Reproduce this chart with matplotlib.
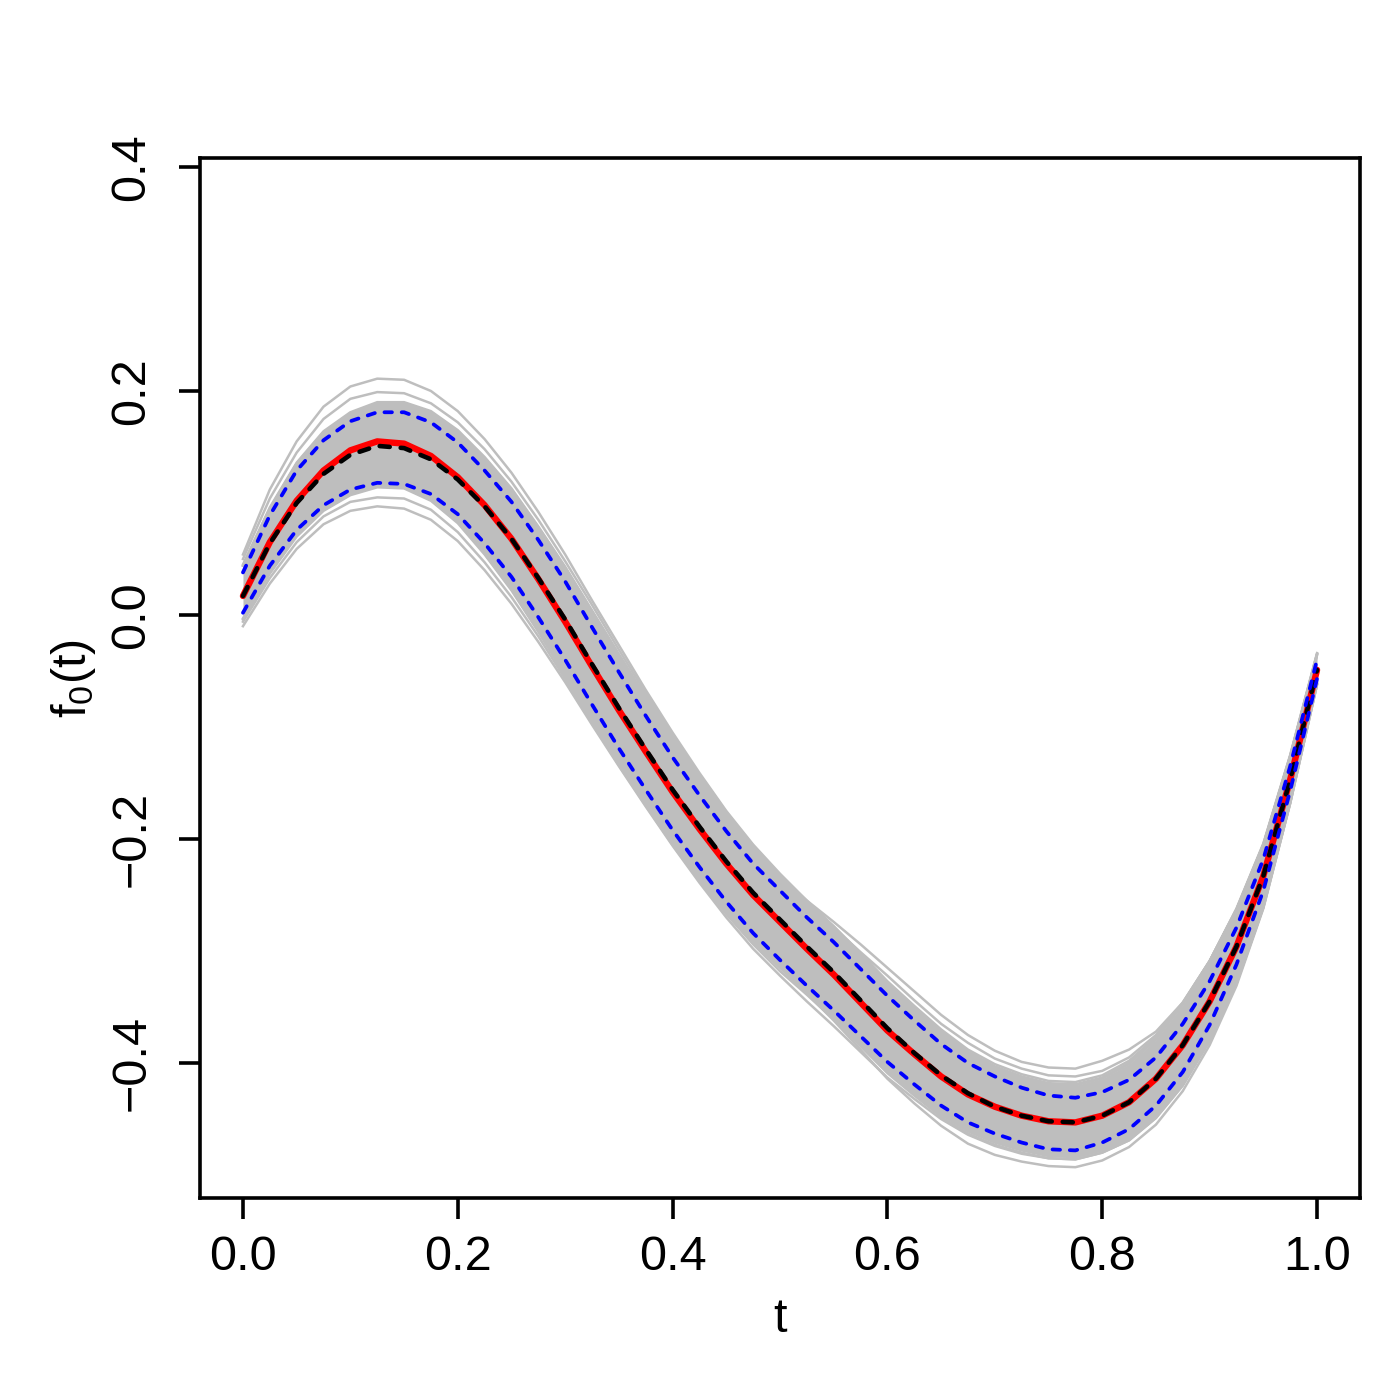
import numpy as np
import matplotlib
matplotlib.use("Agg")
from matplotlib import pyplot as plt

plt.rcParams['font.family'] = ['Liberation Sans', 'DejaVu Sans']
plt.rcParams['mathtext.default'] = 'regular'

# sample points along t where the curves were read
t = np.linspace(0, 1, 41)

# estimated f0 (red, solid)
est = [0.017, 0.065, 0.102, 0.129, 0.147, 0.155, 0.153, 0.142, 0.123, 0.098,
       0.068, 0.032, -0.006, -0.046, -0.085, -0.122, -0.158, -0.191, -0.222, -0.250,
       -0.274, -0.298, -0.321, -0.346, -0.371, -0.392, -0.412, -0.428, -0.439, -0.447,
       -0.452, -0.453, -0.447, -0.435, -0.414, -0.384, -0.345, -0.296, -0.233, -0.147,
       -0.049]

# true f0 (black, dashed)
truth = [0.017, 0.064, 0.100, 0.126, 0.143, 0.151, 0.149, 0.139, 0.121, 0.097,
         0.068, 0.033, -0.004, -0.044, -0.083, -0.120, -0.156, -0.189, -0.220, -0.248,
         -0.272, -0.296, -0.319, -0.344, -0.369, -0.391, -0.411, -0.427, -0.439, -0.447,
         -0.452, -0.453, -0.447, -0.435, -0.414, -0.384, -0.345, -0.296, -0.233, -0.147,
         -0.049]

# pointwise bands (blue, dashed)
upper = [0.038, 0.089, 0.129, 0.156, 0.173, 0.181, 0.181, 0.172, 0.154, 0.129,
         0.101, 0.067, 0.030, -0.011, -0.051, -0.090, -0.127, -0.161, -0.193, -0.222,
         -0.246, -0.270, -0.292, -0.316, -0.340, -0.362, -0.383, -0.400, -0.412, -0.422,
         -0.429, -0.431, -0.426, -0.415, -0.395, -0.365, -0.327, -0.279, -0.218, -0.135,
         -0.040]
lower = [0.002, 0.044, 0.076, 0.098, 0.112, 0.118, 0.117, 0.108, 0.090, 0.064,
         0.034, -0.002, -0.040, -0.080, -0.119, -0.156, -0.192, -0.225, -0.256, -0.284,
         -0.308, -0.331, -0.353, -0.376, -0.399, -0.419, -0.438, -0.453, -0.463, -0.471,
         -0.477, -0.478, -0.471, -0.459, -0.438, -0.408, -0.366, -0.312, -0.246, -0.157,
         -0.057]

# dense region of the gray replicate curves
gray_top = [0.045, 0.096, 0.136, 0.164, 0.181, 0.190, 0.190, 0.182, 0.165, 0.141,
            0.113, 0.079, 0.043, 0.004, -0.035, -0.073, -0.110, -0.145, -0.178, -0.208,
            -0.233, -0.257, -0.279, -0.304, -0.329, -0.351, -0.373, -0.391, -0.404, -0.413,
            -0.419, -0.420, -0.414, -0.401, -0.379, -0.348, -0.310, -0.264, -0.206, -0.127,
            -0.036]
gray_bot = [-0.003, 0.038, 0.071, 0.094, 0.108, 0.115, 0.114, 0.103, 0.083, 0.055,
            0.023, -0.014, -0.053, -0.093, -0.131, -0.167, -0.202, -0.234, -0.264, -0.291,
            -0.314, -0.337, -0.359, -0.383, -0.407, -0.427, -0.446, -0.461, -0.471, -0.478,
            -0.483, -0.484, -0.478, -0.467, -0.447, -0.418, -0.379, -0.328, -0.260, -0.167,
            -0.061]

# individual gray replicates lying outside the dense region
gray_a = [0.054, 0.112, 0.155, 0.186, 0.204, 0.211, 0.210, 0.200, 0.182, 0.157,
          0.127, 0.092, 0.054, 0.013, -0.027, -0.067, -0.105, -0.141, -0.175, -0.205,
          -0.231, -0.255, -0.278, -0.302, -0.327, -0.349, -0.370, -0.388, -0.401, -0.410,
          -0.416, -0.417, -0.411, -0.398, -0.377, -0.347, -0.309, -0.262, -0.204, -0.125,
          -0.034]
gray_b = [0.050, 0.104, 0.145, 0.175, 0.193, 0.199, 0.198, 0.189, 0.172, 0.148,
          0.119, 0.085, 0.048, 0.009, -0.031, -0.070, -0.108, -0.143, -0.176, -0.206,
          -0.232, -0.256, -0.278, -0.303, -0.328, -0.350, -0.372, -0.390, -0.403, -0.412,
          -0.418, -0.419, -0.413, -0.400, -0.378, -0.347, -0.309, -0.263, -0.205, -0.126,
          -0.035]
gray_c = [0.044, 0.095, 0.135, 0.163, 0.180, 0.189, 0.189, 0.181, 0.164, 0.140,
          0.112, 0.078, 0.042, 0.003, -0.036, -0.074, -0.111, -0.146, -0.179, -0.209,
          -0.234, -0.255, -0.274, -0.294, -0.315, -0.336, -0.357, -0.375, -0.389, -0.399,
          -0.404, -0.405, -0.398, -0.388, -0.372, -0.346, -0.309, -0.263, -0.205, -0.126,
          -0.035]
gray_d = [0.044, 0.095, 0.135, 0.163, 0.180, 0.189, 0.189, 0.181, 0.164, 0.140,
          0.112, 0.078, 0.042, 0.003, -0.036, -0.074, -0.111, -0.146, -0.179, -0.209,
          -0.234, -0.257, -0.279, -0.301, -0.322, -0.344, -0.365, -0.382, -0.396, -0.405,
          -0.411, -0.412, -0.407, -0.395, -0.375, -0.346, -0.309, -0.263, -0.205, -0.126,
          -0.035]
gray_e = [-0.010, 0.028, 0.059, 0.081, 0.093, 0.097, 0.095, 0.085, 0.066, 0.040,
          0.010, -0.024, -0.060, -0.098, -0.135, -0.171, -0.206, -0.239, -0.270, -0.298,
          -0.322, -0.345, -0.367, -0.390, -0.413, -0.432, -0.450, -0.464, -0.474, -0.481,
          -0.485, -0.486, -0.480, -0.469, -0.449, -0.420, -0.380, -0.329, -0.261, -0.168,
          -0.062]
gray_f = [-0.006, 0.033, 0.065, 0.088, 0.101, 0.105, 0.104, 0.094, 0.074, 0.047,
          0.016, -0.019, -0.057, -0.096, -0.134, -0.170, -0.205, -0.237, -0.267, -0.294,
          -0.318, -0.339, -0.361, -0.385, -0.409, -0.429, -0.448, -0.463, -0.473, -0.480,
          -0.485, -0.486, -0.480, -0.469, -0.449, -0.420, -0.380, -0.329, -0.261, -0.168,
          -0.062]
gray_g = [-0.004, 0.037, 0.070, 0.093, 0.107, 0.114, 0.113, 0.102, 0.082, 0.054,
          0.022, -0.015, -0.054, -0.094, -0.132, -0.168, -0.203, -0.235, -0.265, -0.292,
          -0.315, -0.338, -0.362, -0.388, -0.414, -0.436, -0.456, -0.472, -0.482, -0.488,
          -0.492, -0.493, -0.487, -0.475, -0.455, -0.425, -0.384, -0.331, -0.262, -0.168,
          -0.062]

x_ticks = [0.0, 0.2, 0.4, 0.6, 0.8, 1.0]
y_ticks = [-0.4, -0.2, 0.0, 0.2, 0.4]

GRAY = '#BEBEBE'

fig = plt.figure(figsize=(14, 14), dpi=100)
ax = fig.add_axes([200 / 1400, 1 - 1198 / 1400, 1160 / 1400, 1040 / 1400])

ax.fill_between(t, gray_bot, gray_top, color=GRAY, lw=0, zorder=1)
for g in [gray_a, gray_b, gray_c, gray_d, gray_e, gray_f, gray_g, gray_top, gray_bot]:
    ax.plot(t, g, color=GRAY, lw=1.8, zorder=1)

ax.plot(t, est, color='red', lw=4.6, solid_capstyle='round', solid_joinstyle='round', zorder=3)
ax.plot(t, truth, color='black', lw=3.3, dashes=(2.2, 2.4), dash_capstyle='round', zorder=4)
ax.plot(t, upper, color='blue', lw=2.7, dashes=(2.0, 2.6), dash_capstyle='round', zorder=5)
ax.plot(t, lower, color='blue', lw=2.7, dashes=(2.0, 2.6), dash_capstyle='round', zorder=5)

ax.set_xlim(-0.04, 1.04)
ax.set_ylim(-0.5205, 0.408)

ax.set_xticks(x_ticks)
ax.set_xticklabels(['0.0', '0.2', '0.4', '0.6', '0.8', '1.0'])
ax.set_yticks(y_ticks)
ax.set_yticklabels(['\u22120.4', '\u22120.2', '0.0', '0.2', '0.4'])

for s in ax.spines.values():
    s.set_linewidth(2.6)

ax.tick_params(axis='both', direction='out', length=15, width=2.6, labelsize=35)
ax.tick_params(axis='x', pad=12)
ax.tick_params(axis='y', pad=18)
plt.setp(ax.get_yticklabels(), rotation=90, va='center')

ax.set_xlabel('t', fontsize=35, labelpad=12)
ax.set_ylabel('$f_0(t)$', fontsize=35, labelpad=8)

fig.savefig('out.png', dpi=100)
